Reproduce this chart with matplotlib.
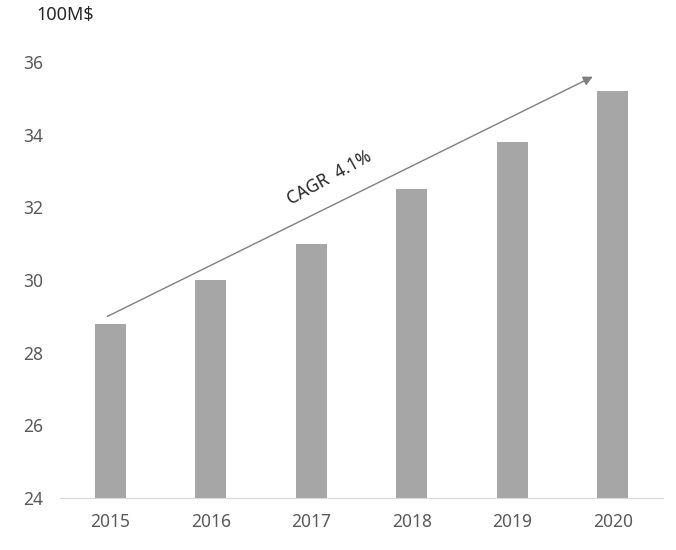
import matplotlib.pyplot as plt

years = ["2015", "2016", "2017", "2018", "2019", "2020"]
values = [28.8, 30.0, 31.0, 32.5, 33.8, 35.2]
y_ticks = [24, 26, 28, 30, 32, 34, 36]

plt.rcParams['font.family'] = ['Noto Sans', 'DejaVu Sans']

fig = plt.figure(figsize=(6.76, 5.5), dpi=100)
ax = fig.add_axes([0.089, 0.0945, 0.892, 0.7925])

x = range(len(years))
ax.bar(x, values, width=0.31, color="#A6A6A6")

ax.set_xlim(-0.5, 5.5)
ax.set_ylim(24, 36)
ax.set_yticks(y_ticks)
ax.set_xticks(list(x))
ax.set_xticklabels(years)
ax.tick_params(length=0, labelsize=12.5, colors="#595959", pad=11)
ax.tick_params(axis="y", pad=12)

for s in ["top", "right", "left"]:
    ax.spines[s].set_visible(False)
ax.spines["bottom"].set_color("#D9D9D9")

# flecha de crecimiento
ax.annotate("", xy=(4.8, 35.6), xytext=(-0.03, 29.0),
            arrowprops=dict(arrowstyle="-|>", color="#7F7F7F", lw=1,
                            mutation_scale=14, shrinkA=0, shrinkB=0))
ax.text(2.18, 32.8, "CAGR  4.1%", rotation=29, fontsize=12.5, color="#262626",
        ha="center", va="center", rotation_mode="anchor")

fig.text(0.054, 0.972, "100M$", fontsize=13, color="#262626", ha="left", va="center")

fig.savefig("out.png")
